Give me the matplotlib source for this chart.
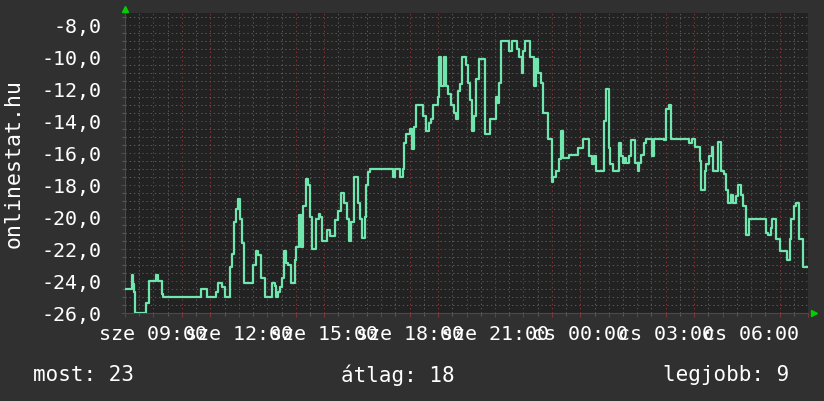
import matplotlib
matplotlib.use("Agg")
import matplotlib.pyplot as plt
from matplotlib.ticker import MultipleLocator, FixedLocator, FuncFormatter
import matplotlib.transforms as mtransforms

# perc 08:00 (sze) ota, es a helyezes (rangsor)
perc = [0, 14, 17, 19, 21, 44, 51, 65, 70, 77, 81, 161, 172, 192, 197, 204, 211,
        221, 225, 229, 235, 239, 242, 246, 251, 270, 276, 281, 286, 295, 309, 316,
        319, 323, 326, 332, 335, 340, 344, 351, 358, 361, 367, 372, 375, 381, 386,
        389, 395, 403, 409, 412, 416, 425, 432, 442, 449, 456, 462, 467, 472, 477,
        483, 491, 495, 500, 505, 509, 512, 516, 565, 570, 579, 586, 589, 593, 600,
        606, 610, 614, 628, 634, 641, 646, 650, 660, 663, 667, 672, 677, 681, 688,
        693, 697, 702, 707, 711, 718, 723, 728, 732, 735, 740, 747, 758, 770, 782,
        787, 789, 793, 810, 815, 826, 831, 837, 840, 844, 853, 863, 867, 870, 874,
        877, 881, 891, 900, 903, 909, 916, 920, 924, 937, 956, 965, 979, 985, 989,
        994, 1010, 1014, 1021, 1023, 1028, 1042, 1046, 1050, 1055, 1057, 1062, 1067,
        1076, 1081, 1084, 1088, 1095, 1098, 1111, 1116, 1137, 1140, 1146, 1151, 1189,
        1195, 1202, 1212, 1215, 1222, 1224, 1231, 1237, 1240, 1251, 1256, 1263, 1268,
        1272, 1277, 1282, 1288, 1293, 1298, 1303, 1309, 1316, 1351, 1356, 1361, 1365,
        1373, 1380, 1396, 1401, 1405, 1410, 1414, 1421, 1429, 1440]
helyezes = [24.5, 23.6, 24.2, 24.7, 26.0, 25.4, 24.0, 23.6, 24.0, 24.8, 25.0, 24.5,
            25.0, 24.7, 24.1, 24.4, 25.0, 23.1, 22.3, 20.3, 19.5, 18.9, 20.1, 21.6,
            24.1, 23.0, 22.1, 22.4, 23.8, 25.0, 24.1, 24.3, 25.0, 24.7, 24.4, 23.8,
            22.1, 22.9, 23.0, 24.1, 22.7, 21.9, 19.9, 21.9, 19.3, 17.6, 18.0, 20.0,
            22.0, 20.1, 19.8, 20.0, 21.5, 20.8, 21.2, 20.2, 19.6, 18.5, 19.1, 20.1,
            21.5, 20.3, 17.5, 19.1, 20.1, 21.3, 20.0, 18.0, 17.2, 17.0, 17.5, 17.0,
            17.5, 17.0, 15.4, 14.8, 14.5, 15.75, 14.4, 13.0, 13.7, 14.6, 14.1, 13.9,
            13.0, 12.5, 10.0, 11.8, 10.0, 11.8, 12.3, 13.0, 13.5, 13.9, 12.1, 11.7,
            10.0, 10.5, 11.6, 12.7, 14.6, 13.7, 11.4, 10.1, 14.8, 13.9, 12.5, 12.9,
            11.6, 9.0, 9.6, 9.0, 9.5, 10.0, 11.0, 9.6, 9.0, 10.0, 11.8, 10.1, 11.0,
            11.0, 11.6, 13.5, 15.1, 17.8, 17.5, 17.1, 16.4, 14.6, 16.3, 16.1, 15.7,
            15.1, 16.2, 16.7, 16.2, 17.1, 14.0, 12.0, 15.7, 16.7, 17.1, 15.4, 16.2,
            16.6, 16.3, 16.6, 16.2, 15.2, 16.6, 17.1, 16.6, 16.1, 15.4, 15.1, 16.2,
            15.1, 15.2, 13.25, 13.0, 15.1, 15.4, 15.1, 15.6, 16.5, 18.3, 17.1, 16.7,
            16.2, 15.6, 17.1, 15.3, 17.1, 17.3, 18.3, 19.1, 18.6, 19.1, 18.7, 18.0,
            18.6, 19.3, 21.1, 20.1, 21.0, 21.1, 20.7, 20.1, 21.4, 22.1, 22.7, 21.4,
            20.1, 19.3, 19.1, 21.4, 23.1, 23.1]

ora_cimkek = ["sze 09:00", "sze 12:00", "sze 15:00", "sze 18:00", "sze 21:00",
              "cs 00:00", "cs 03:00", "cs 06:00"]
cimke_percek = [60, 240, 420, 600, 780, 960, 1140, 1320]

most, atlag, legjobb = 23, 18, 9

BG = "#303030"
PLOT_BG = "#222222"
VONAL = "#70e6ae"
RACS = "#585858"
FO_RACS = "#7c3838"
MONO = "DejaVu Sans Mono"

fig = plt.figure(figsize=(8.24, 4.02), dpi=100, facecolor=BG)
W, H = 824, 402
ax = fig.add_axes([125 / W, (H - 314) / H, 683 / W, 300 / H])
ax.set_facecolor(PLOT_BG)

ertekek = [-h for h in helyezes]
ax.step(perc, ertekek, where="post", color=VONAL, lw=1.6, zorder=3)

ax.set_xlim(0, 1440)
ax.set_ylim(-26, -7.25)

# racsok
ax.xaxis.set_major_locator(MultipleLocator(60))
ax.xaxis.set_minor_locator(MultipleLocator(30))
ax.yaxis.set_major_locator(MultipleLocator(2))
ax.yaxis.set_minor_locator(MultipleLocator(0.5))
dots = (0, (1.4, 2.8))
ax.grid(which="minor", color=RACS, lw=0.72, ls=dots, zorder=1)
ax.grid(which="major", color=FO_RACS, lw=0.72, ls=dots, zorder=2)

ax.xaxis.set_major_formatter(FuncFormatter(
    lambda x, p: ora_cimkek[cimke_percek.index(int(round(x)))] if int(round(x)) in cimke_percek else ""))
ax.yaxis.set_major_formatter(FuncFormatter(lambda y, p: f"{y:.1f}".replace(".", ",")))

ax.tick_params(which="major", axis="both", colors=FO_RACS, length=3, width=0.8)
ax.tick_params(which="minor", axis="both", colors=RACS, length=2, width=0.8)
ax.tick_params(axis="x", which="major", labelcolor="white", labelsize=14.4, pad=5)
ax.tick_params(axis="y", which="major", labelcolor="white", labelsize=14.4, pad=14)
for lab in ax.get_xticklabels() + ax.get_yticklabels():
    lab.set_family(MONO)

for s in ax.spines.values():
    s.set_visible(False)
ax.spines["bottom"].set_visible(True)
ax.spines["left"].set_visible(True)
ax.spines["bottom"].set_color("#4a4a4a")
ax.spines["left"].set_color("#4a4a4a")

# zold nyilak a tengelyek vegen
up = mtransforms.offset_copy(ax.transAxes, fig=fig, x=0, y=4, units="dots")
ax.plot([0], [1], marker="^", ms=5, color="#00d000", mec="#00d000",
        transform=up, clip_on=False, zorder=5)
right = mtransforms.offset_copy(ax.transAxes, fig=fig, x=6, y=0, units="dots")
ax.plot([1], [0], marker=">", ms=5, color="#00d000", mec="#00d000",
        transform=right, clip_on=False, zorder=5)

fig.text(14 / W, 1 - 164 / H, "onlinestat.hu", rotation=90, ha="center", va="center",
         color="white", fontsize=15.5, family=MONO)

fig.text(33 / W, 1 - 375 / H, f"most: {most}", ha="left", va="center",
         color="white", fontsize=15, family=MONO)
fig.text(341 / W, 1 - 375 / H, f"átlag: {atlag}", ha="left", va="center",
         color="white", fontsize=15, family=MONO)
fig.text(663 / W, 1 - 375 / H, f"legjobb: {legjobb}", ha="left", va="center",
         color="white", fontsize=15, family=MONO)

fig.savefig("out.png", dpi=100, facecolor=BG)
